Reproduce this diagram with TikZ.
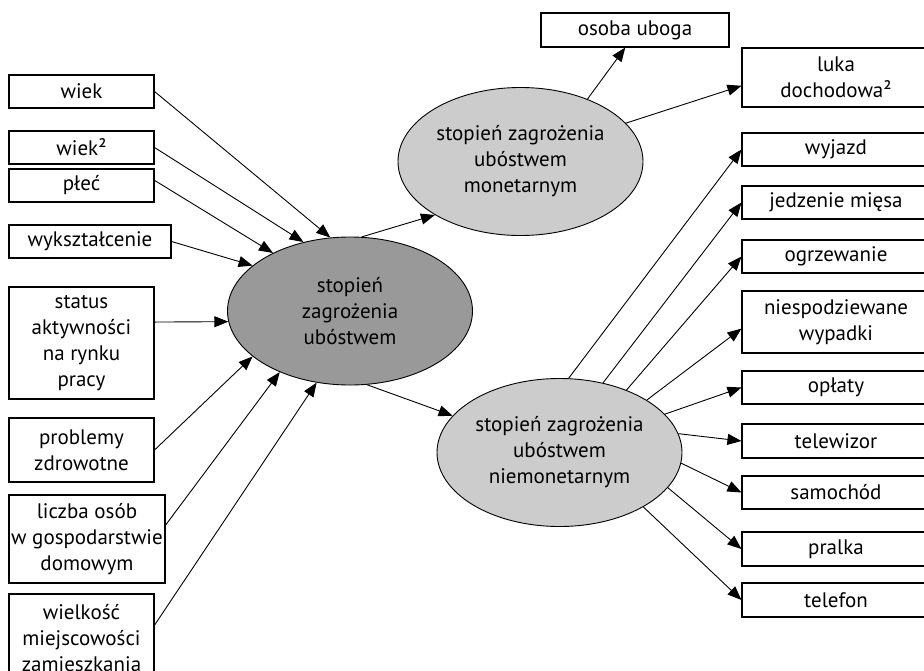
\documentclass[tikz,border=0pt]{standalone}
\usepackage{fontspec}
\setmainfont{PT Sans}
\usetikzlibrary{arrows.meta,shapes.geometric}

\begin{document}
\begin{tikzpicture}[x=1pt,y=-1pt,
    font=\fontsize{21}{26}\selectfont,
    box/.style={draw,line width=1.1pt,rectangle,align=center,inner sep=0pt,minimum width=145pt,minimum height=33pt},
    rbox/.style={box,minimum width=188pt},
    blob/.style={draw,line width=0.9pt,ellipse,align=center,inner sep=0pt,minimum width=245pt,minimum height=148pt},
    arr/.style={-{Triangle[length=14pt,width=11pt]},line width=0.9pt}]
    \useasboundingbox (0,0) rectangle (924,670);
    % left side
    \node[box] (wiek) at (81.5,91.5) {wiek};
    \node[box] (wiekkw) at (81.5,147.5) {wiek²};
    \node[box] (plec) at (81.5,185.5) {płeć};
    \node[box,minimum width=162pt] (wyksz) at (90,241.5) {wykształcenie};
    \node[box,minimum height=112pt] (status) at (81.5,343) {status\\aktywności\\na rynku\\pracy};
    \node[box,minimum height=64pt] (zdrowie) at (81.5,450) {problemy\\zdrowotne};
    \node[box,minimum width=156pt,minimum height=88pt] (osoby) at (87,539) {liczba osób\\w gospodarstwie\\domowym};
    \node[box,minimum height=88pt] (miejsc) at (81.5,638) {wielkość\\miejscowości\\zamieszkania};
    % ellipses
    \node[blob,fill=black!40] (ubostwo) at (350,311) {stopień\\zagrożenia\\ubóstwem};
    \node[blob,fill=black!20] (monet) at (520.5,161.5) {stopień zagrożenia\\ubóstwem\\monetarnym};
    \node[blob,fill=black!20] (niemonet) at (559.5,452.5) {stopień zagrożenia\\ubóstwem\\niemonetarnym};
    % right side
    \node[rbox,minimum height=34pt] (uboga) at (635,30) {osoba uboga};
    \node[rbox,minimum height=59pt] (luka) at (836,77.5) {luka\\dochodowa²};
    \node[rbox] (wyjazd) at (836,149.5) {wyjazd};
    \node[rbox] (mieso) at (836,202.5) {jedzenie mięsa};
    \node[rbox] (ogrz) at (836,256.5) {ogrzewanie};
    \node[rbox,minimum height=62pt] (wypadki) at (836,322) {niespodziewane\\wypadki};
    \node[rbox] (oplaty) at (836,387.5) {opłaty};
    \node[rbox,minimum height=34pt] (tv) at (836,441) {telewizor};
    \node[rbox] (auto) at (836,492.5) {samochód};
    \node[rbox,minimum height=34pt] (pralka) at (836,549) {pralka};
    \node[rbox,minimum height=34pt] (telefon) at (836,600) {telefon};
    % arrows
    \draw[arr] (wiek.east) -- (ubostwo.105);
    \draw[arr] (wiekkw.east) -- (ubostwo.124);
    \draw[arr] (plec.4) -- (ubostwo.143);
    \draw[arr] (wyksz.east) -- (ubostwo.155);
    \draw[arr] (status.16) -- (ubostwo.185);
    \draw[arr] (zdrowie.east) -- (ubostwo.205);
    \draw[arr] (osoby.10) -- (ubostwo.221);
    \draw[arr] (miejsc.10) -- (ubostwo.245);
    \draw[arr] (ubostwo.81) -- (monet.212);
    \draw[arr] (ubostwo.283) -- (niemonet.161);
    \draw[arr] (monet.43) -- (uboga.241);
    \draw[arr] (monet.20) -- (luka.185);
    \draw[arr] (niemonet.83.5) -- (wyjazd.west);
    \draw[arr] (niemonet.58) -- (mieso.west);
    \draw[arr] (niemonet.43) -- (ogrz.west);
    \draw[arr] (niemonet.31) -- (wypadki.184);
    \draw[arr] (niemonet.20) -- (oplaty.west);
    \draw[arr] (niemonet.9) -- (tv.west);
    \draw[arr] (niemonet.355) -- (auto.west);
    \draw[arr] (niemonet.342) -- (pralka.west);
    \draw[arr] (niemonet.327) -- (telefon.west);
\end{tikzpicture}
\end{document}
